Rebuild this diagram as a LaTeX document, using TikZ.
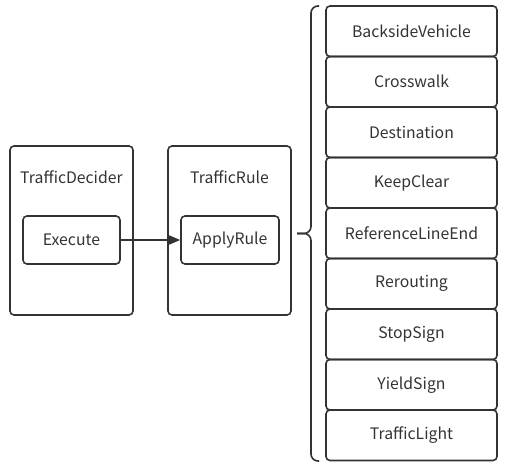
\documentclass[tikz,border=0pt]{standalone}
\usepackage{fontspec}
\setmainfont{Noto Sans CJK SC}
\usetikzlibrary{positioning,arrows.meta}
\definecolor{linegray}{HTML}{333333}
\tikzset{
  flowarrow/.style={-{Triangle[length=11bp, width=9bp]}, line width=1.6bp, draw=linegray},
  outerbox/.style={draw=linegray, line width=1.6bp, rounded corners=4bp, minimum width=123bp, minimum height=169bp},
  funcbox/.style={draw=linegray, line width=1.6bp, rounded corners=4bp, minimum width=97bp, minimum height=48bp, align=center},
  rulebox/.style={draw=linegray, line width=1.6bp, rounded corners=4bp, minimum width=171bp, minimum height=50.5bp, align=center},
  title/.style={text=linegray, inner sep=0pt},
  bracepath/.style={draw=linegray, line width=1.6bp, rounded corners=7bp}
}

\begin{document}
\begin{tikzpicture}[x=1bp, y=-1bp, every node/.style={font=\fontsize{15.8bp}{19bp}\selectfont, text=linegray}]
  \useasboundingbox (0,0) rectangle (507,474);
  % caller and rule containers
  \node[outerbox] (decider) at (71.5,230.5) {};
  \node[title] (decidertitle) at (71.5,177.5) {TrafficDecider};
  \node[funcbox] (execute) at (71.5,240) {Execute};
  \node[outerbox] (trafficrule) at (229.5,230.5) {};
  \node[title] (ruletitle) at (229.5,177.5) {TrafficRule};
  \node[funcbox, minimum width=98bp] (applyrule) at (230,240) {ApplyRule};
  \draw[flowarrow] (execute) -- (applyrule);
  % list of rules
  \node[rulebox] (backside) at (411.5,31.25) {BacksideVehicle};
  \node[rulebox] (crosswalk) at (411.5,81.75) {Crosswalk};
  \node[rulebox] (destination) at (411.5,132.25) {Destination};
  \node[rulebox] (keepclear) at (411.5,182.75) {KeepClear};
  \node[rulebox] (reflineend) at (411.5,233.25) {ReferenceLineEnd};
  \node[rulebox] (rerouting) at (411.5,283.75) {Rerouting};
  \node[rulebox] (stopsign) at (411.5,334.25) {StopSign};
  \node[rulebox] (yieldsign) at (411.5,384.75) {YieldSign};
  \node[rulebox] (trafficlight) at (411.5,435.25) {TrafficLight};
  % brace
  \draw[bracepath] (319,6) -- (311,6) -- (311,233.5) -- (297,233.5);
  \draw[bracepath] (319,461) -- (311,461) -- (311,233.5) -- (297,233.5);
\end{tikzpicture}
\end{document}
